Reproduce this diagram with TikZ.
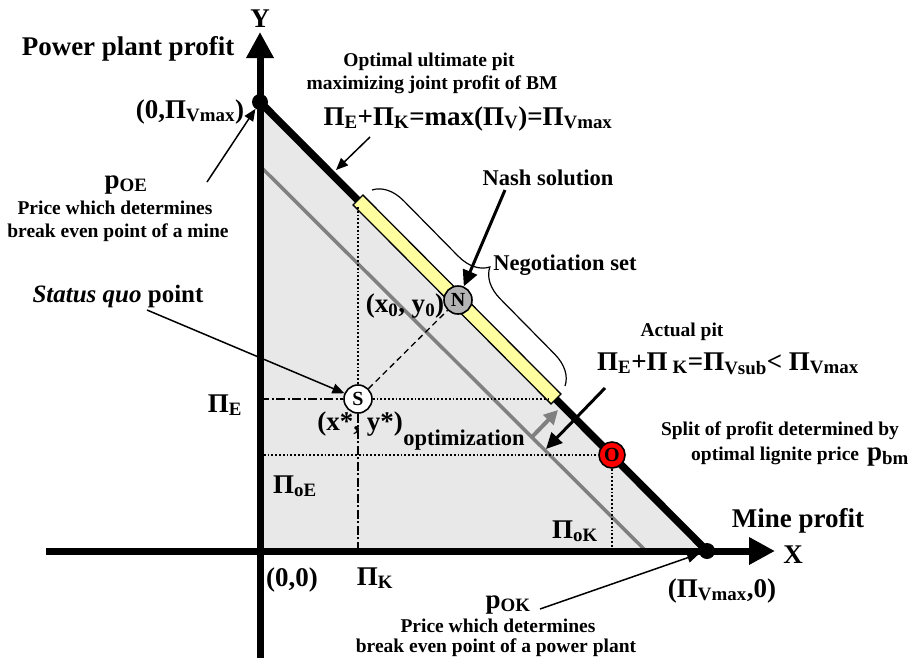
\documentclass[tikz,border=0pt]{standalone}
\usepackage{fontspec}
\setmainfont{Liberation Serif}
\usepackage{tikz}
\usetikzlibrary{arrows.meta, decorations.pathreplacing, calc}
\usepackage{xcolor}
\definecolor{areagray}{RGB}{232,232,232}
\definecolor{setyellow}{RGB}{255,255,160}
\definecolor{nashgray}{RGB}{180,180,180}
\definecolor{optred}{RGB}{255,0,0}
\definecolor{subgray}{RGB}{128,128,128}
\newcommand{\sbs}[1]{\textsubscript{#1}}
\newcommand{\bfsz}[1]{\fontsize{#1}{#1}\selectfont\bfseries}

\begin{document}
\begin{tikzpicture}[x=1pt,y=-1pt,
  big/.style={font=\bfsz{27},inner sep=0pt,anchor=base},
  med/.style={font=\bfsz{22.5},inner sep=0pt,anchor=base},
  sml/.style={font=\bfsz{19.5},inner sep=0pt,anchor=base},
  eqn/.style={font=\bfsz{27},inner sep=0pt,anchor=base},
  vdot/.style={circle,fill=black,inner sep=0pt,minimum size=16pt},
  sol/.style={circle,draw=black,line width=1.6pt,inner sep=0pt,minimum size=28pt,font=\bfsz{20}},
  call/.style={-{Triangle[length=12pt,width=10pt]},line width=1.5pt},
  callb/.style={-{Triangle[length=16pt,width=15pt]},line width=3pt},
  axisln/.style={-{Triangle[length=26pt,width=26pt]},line width=7pt},
  dotln/.style={dotted,line width=1.8pt},
  dshdt/.style={dash pattern=on 9pt off 2.5pt on 2pt off 2.5pt,line width=1.8pt}]
  \useasboundingbox (0,0) rectangle (919,667);
  \coordinate (orig) at(260,551);
  \coordinate (topV) at(260,102);
  \coordinate (rightV) at(707,551);
  \coordinate (bandA) at(358,200);
  \coordinate (bandB) at(556,399);
  \coordinate (grayA) at(260,166);
  \coordinate (grayB) at(646,551);
  \fill[areagray] (topV)--(rightV)--(orig)--cycle;
  \draw[subgray,line width=3.5pt] (grayA)--(grayB);
  \draw[line width=7.5pt] (topV)--(rightV);
  \filldraw[fill=setyellow,line width=1.3pt] ($(bandA)!7pt!90:(bandB)$)--($(bandA)!7pt!-90:(bandB)$)
    --($(bandB)!7pt!90:(bandA)$)--($(bandB)!7pt!-90:(bandA)$)--cycle;
  \coordinate (yfoot) at(260,658);
  \coordinate (ytip) at(260,32);
  \coordinate (xfoot) at(46,551);
  \coordinate (xtip) at(775,551);
  \draw[axisln] (yfoot)--(ytip);
  \draw[axisln] (xfoot)--(xtip);
  \node[vdot] (ymax) at(topV){};
  \node[vdot] (xmax) at(rightV){};
  \node[sol,fill=white] (sq) at(358,399){S};
  \node[sol,fill=nashgray] (nash) at(458,300){N};
  \node[sol,fill=optred,minimum size=26pt] (opt) at(612,455){O};
  \coordinate (setTop) at(358,207);
  \coordinate (setBot) at(550,399);
  \coordinate (pE) at(260,399);
  \coordinate (pK) at(358,551);
  \coordinate (oE) at(260,455);
  \coordinate (oK) at(612,551);
  \draw[dotln] (setTop)--(sq);
  \draw[dotln] (sq)--(setBot);
  \draw[dshdt] (pE)--(sq);
  \draw[dshdt] (sq)--(pK);
  \draw[dotln] (oE)--(opt);
  \draw[dotln] (opt)--(oK);
  \draw[dash pattern=on 6pt off 4pt,line width=1.3pt] (sq)--(nash);
  \coordinate (braceA) at(372,190);
  \coordinate (braceB) at(565,386);
  \draw[decorate,decoration={brace,amplitude=30pt},line width=1.2pt] (braceA)--(braceB);
  \coordinate (movA) at(531,438);
  \coordinate (movB) at(558,410);
  \draw[-{Triangle[length=14pt,width=14pt]},subgray,line width=4pt] (movA)--(movB);
  \coordinate (poeTail) at(207,182);
  \coordinate (pitTail) at(370,137);
  \coordinate (pitTip) at(336,170);
  \coordinate (nashTail) at(505,190);
  \coordinate (sqTail) at(147,310);
  \coordinate (actTail) at(605,388);
  \coordinate (actTip) at(546,449);
  \coordinate (pokTail) at(540,609);
  \draw[call] (poeTail)--(ymax);
  \draw[call] (pitTail)--(pitTip);
  \draw[callb] (nashTail)--(nash);
  \draw[call] (sqTail)--(sq);
  \draw[callb] (actTail)--(actTip);
  \draw[call] (pokTail)--(xmax);
  \node[big] (ylab) at(260,27){Y};
  \node[big] (xlab) at(793,563){X};
  \node[big] (pplab) at(128,55){Power plant profit};
  \node[big] (mplab) at(798,527){Mine profit};
  \node[big] (ymaxlab) at(190,118){(0,Π\sbs{Vmax})};
  \node[big] (poe) at(126,188){p\sbs{OE}};
  \node[sml] (poe1) at(115,214){Price which determines};
  \node[sml] (poe2) at(118,237){break even point of a mine};
  \node[sml] (pit1) at(429,66){Optimal ultimate pit};
  \node[sml] (pit2) at(432,89){maximizing joint profit of BM};
  \node[eqn] (pit3) at(468,125){Π\sbs{E}+Π\sbs{K}=max(Π\sbs{V})=Π\sbs{Vmax}};
  \node[med] (nashlab) at(548,185){Nash solution};
  \node[med] (neglab) at(565,270){Negotiation set};
  \node[big,font=\bfsz{25}] (sqlab) at(118,302){\textit{Status quo} point};
  \node[big] (x0lab) at(405,312){(x\sbs{0}, y\sbs{0})};
  \node[big] (pElab) at(225,412){Π\sbs{E}};
  \node[big] (xslab) at(360,430){(x*, y*)};
  \node[med] (optlab) at(464,445){optimization};
  \node[sml] (act1) at(682,336){Actual pit};
  \node[eqn] (act2) at(728,370){Π\sbs{E}+Π\hspace{5pt}\sbs{K}=Π\sbs{Vsub}< Π\sbs{Vmax}};
  \node[sml] (split1) at(780,435){Split of profit determined by};
  \node[sml] (split2) at(800,460){optimal lignite price\hspace{8pt}{\bfsz{27}p\sbs{bm}}};
  \node[big] (oElab) at(295,493){Π\sbs{oE}};
  \node[big] (oKlab) at(575,538){Π\sbs{oK}};
  \node[big] (orglab) at(292,586){(0,0)};
  \node[big] (pKlab) at(375,585){Π\sbs{K}};
  \node[big] (xmaxlab) at(722,597){(Π\sbs{Vmax},0)};
  \node[big] (pok) at(508,608){p\sbs{OK}};
  \node[sml] (pok1) at(498,632){Price which determines};
  \node[sml] (pok2) at(496,652){break even point of a power plant};
\end{tikzpicture}
\end{document}
